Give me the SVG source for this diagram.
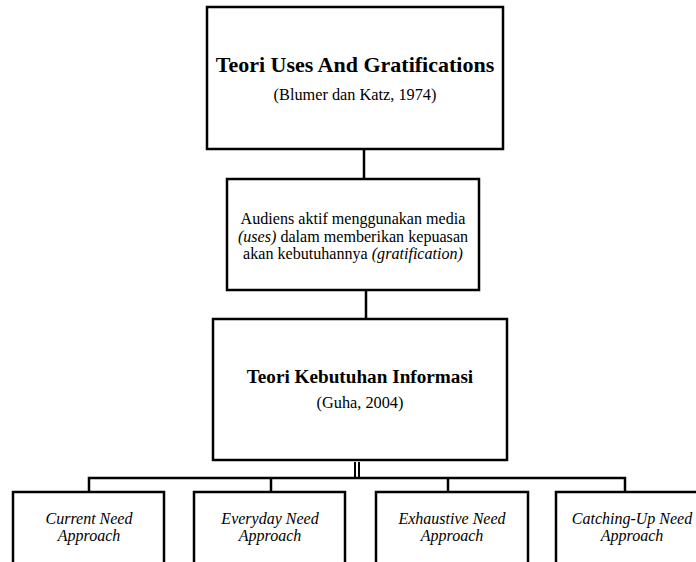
<svg xmlns="http://www.w3.org/2000/svg" width="696" height="562" viewBox="0 0 696 562">
<style>
.box{fill:#fff;stroke:#000;stroke-width:2.5}
.ln{fill:none;stroke:#000;stroke-width:2.5}
text{font-family:'Liberation Serif','DejaVu Serif',serif;fill:#000;text-anchor:middle}
.t{font-weight:bold;font-size:22px}
.t2{font-weight:bold;font-size:19.2px}
.s{font-size:16.3px}
.m{font-size:16.1px}
.i{font-style:italic;font-size:16px}
</style>
<rect width="696" height="562" fill="#fff"/>
<g id="connectors">
<line class="ln" x1="364" y1="149" x2="364" y2="179"/>
<line class="ln" x1="366" y1="290" x2="366" y2="319"/>
<line x1="355" y1="462" x2="355" y2="478" stroke="#000" stroke-width="2"/>
<line x1="359" y1="462" x2="359" y2="478" stroke="#000" stroke-width="2"/>
<polyline class="ln" points="89,492 89,478 625,478 625,492"/>
<line class="ln" x1="271" y1="478" x2="271" y2="492"/>
<line class="ln" x1="448" y1="478" x2="448" y2="492"/>
</g>
<g id="n1">
<rect class="box" x="207" y="7" width="296" height="142"/>
<text class="t" x="355" y="72">Teori Uses And Gratifications</text>
<text class="s" x="355" y="100">(Blumer dan Katz, 1974)</text>
</g>
<g id="n2">
<rect class="box" x="227" y="179" width="252" height="111"/>
<text class="m" x="353" y="224">Audiens aktif menggunakan media</text>
<text class="m" x="353" y="241.5"><tspan font-style="italic">(uses)</tspan> dalam memberikan kepuasan</text>
<text class="m" x="353" y="259">akan kebutuhannya <tspan font-style="italic">(gratification)</tspan></text>
</g>
<g id="n3">
<rect class="box" x="213" y="319" width="294" height="141"/>
<text class="t2" x="360" y="383">Teori Kebutuhan Informasi</text>
<text class="s" x="360" y="408">(Guha, 2004)</text>
</g>
<g id="n4">
<rect class="box" x="13" y="492" width="151" height="80"/>
<text class="i" x="89" y="524">Current Need</text>
<text class="i" x="89" y="541">Approach</text>
</g>
<g id="n5">
<rect class="box" x="194" y="492" width="151" height="80"/>
<text class="i" x="270" y="524">Everyday Need</text>
<text class="i" x="270" y="541">Approach</text>
</g>
<g id="n6">
<rect class="box" x="376" y="492" width="152" height="80"/>
<text class="i" x="452" y="524">Exhaustive Need</text>
<text class="i" x="452" y="541">Approach</text>
</g>
<g id="n7">
<rect class="box" x="556" y="492" width="152" height="80"/>
<text class="i" x="632" y="524">Catching-Up Need</text>
<text class="i" x="632" y="541">Approach</text>
</g>
</svg>
